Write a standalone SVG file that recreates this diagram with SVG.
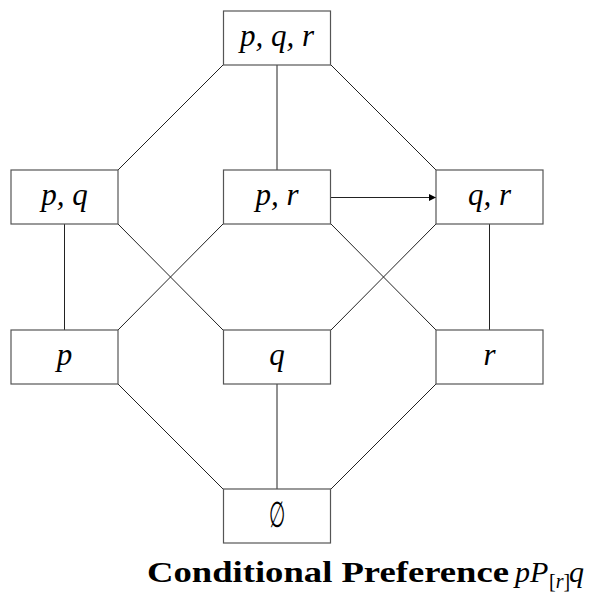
<svg xmlns="http://www.w3.org/2000/svg" width="591" height="592" viewBox="0 0 591 592">
<style>
.box{fill:#fff;stroke:#555;stroke-width:1.2}
.lbl{font-family:"Liberation Serif","DejaVu Serif",serif;font-style:italic;font-size:31px;fill:#000;text-anchor:middle}
.edge{stroke:#222;stroke-width:1;fill:none}
.cap{font-family:"Liberation Serif","DejaVu Serif",serif;font-weight:bold;font-size:29px;fill:#000}
.math{font-family:"Liberation Serif","DejaVu Serif",serif;font-style:italic;font-size:30px;fill:#000}
</style>
<defs>
<marker id="arr" viewBox="0 0 10 10" refX="10" refY="5" markerWidth="8" markerHeight="7" markerUnits="userSpaceOnUse" orient="auto">
<path d="M0,0 L10,5 L0,10 Z" fill="#000"/>
</marker>
</defs>
<g id="connectors">
<line class="edge" x1="223" y1="65" x2="118" y2="170"/>
<line class="edge" x1="277" y1="65" x2="277" y2="170"/>
<line class="edge" x1="331" y1="65" x2="436" y2="170"/>
<line class="edge" x1="64.5" y1="224" x2="64.5" y2="330"/>
<line class="edge" x1="118" y1="224" x2="223" y2="330"/>
<line class="edge" x1="223" y1="224" x2="118" y2="330"/>
<line class="edge" x1="331" y1="224" x2="436" y2="330"/>
<line class="edge" x1="436" y1="224" x2="331" y2="330"/>
<line class="edge" x1="489.5" y1="224" x2="489.5" y2="330"/>
<line class="edge" x1="331" y1="197.5" x2="436" y2="197.5" marker-end="url(#arr)"/>
<line class="edge" x1="118" y1="384" x2="223" y2="489"/>
<line class="edge" x1="277" y1="384" x2="277" y2="489"/>
<line class="edge" x1="436" y1="384" x2="331" y2="489"/>
</g>
<g id="pqr"><rect class="box" x="223.5" y="11" width="107" height="54"/><text class="lbl" x="277" y="46">p, q, r</text></g>
<g id="pq"><rect class="box" x="11" y="170" width="107" height="54"/><text class="lbl" x="64.5" y="205">p, q</text></g>
<g id="pr"><rect class="box" x="223.5" y="170" width="107" height="54"/><text class="lbl" x="277" y="205">p, r</text></g>
<g id="qr"><rect class="box" x="436" y="170" width="107" height="54"/><text class="lbl" x="489.5" y="205">q, r</text></g>
<g id="p"><rect class="box" x="11" y="330" width="107" height="54"/><text class="lbl" x="64.5" y="365">p</text></g>
<g id="q"><rect class="box" x="223.5" y="330" width="107" height="54"/><text class="lbl" x="277" y="365">q</text></g>
<g id="r"><rect class="box" x="436" y="330" width="107" height="54"/><text class="lbl" x="489.5" y="365">r</text></g>
<g id="empty"><rect class="box" x="223.5" y="489" width="107" height="54"/><text transform="translate(277,527) scale(0.62,1.2)" x="0" y="0" font-family="DejaVu Sans,sans-serif" font-size="30" text-anchor="middle" fill="#000">∅</text></g>
<g id="caption">
<text class="cap" x="147" y="582" textLength="362" lengthAdjust="spacingAndGlyphs">Conditional Preference</text>
<text class="math" x="515" y="582">pP</text>
<text x="549" y="588" font-family="Liberation Serif,serif" font-size="20" fill="#000">[<tspan font-style="italic">r</tspan>]</text>
<text class="math" x="569" y="582">q</text>
</g>
</svg>
